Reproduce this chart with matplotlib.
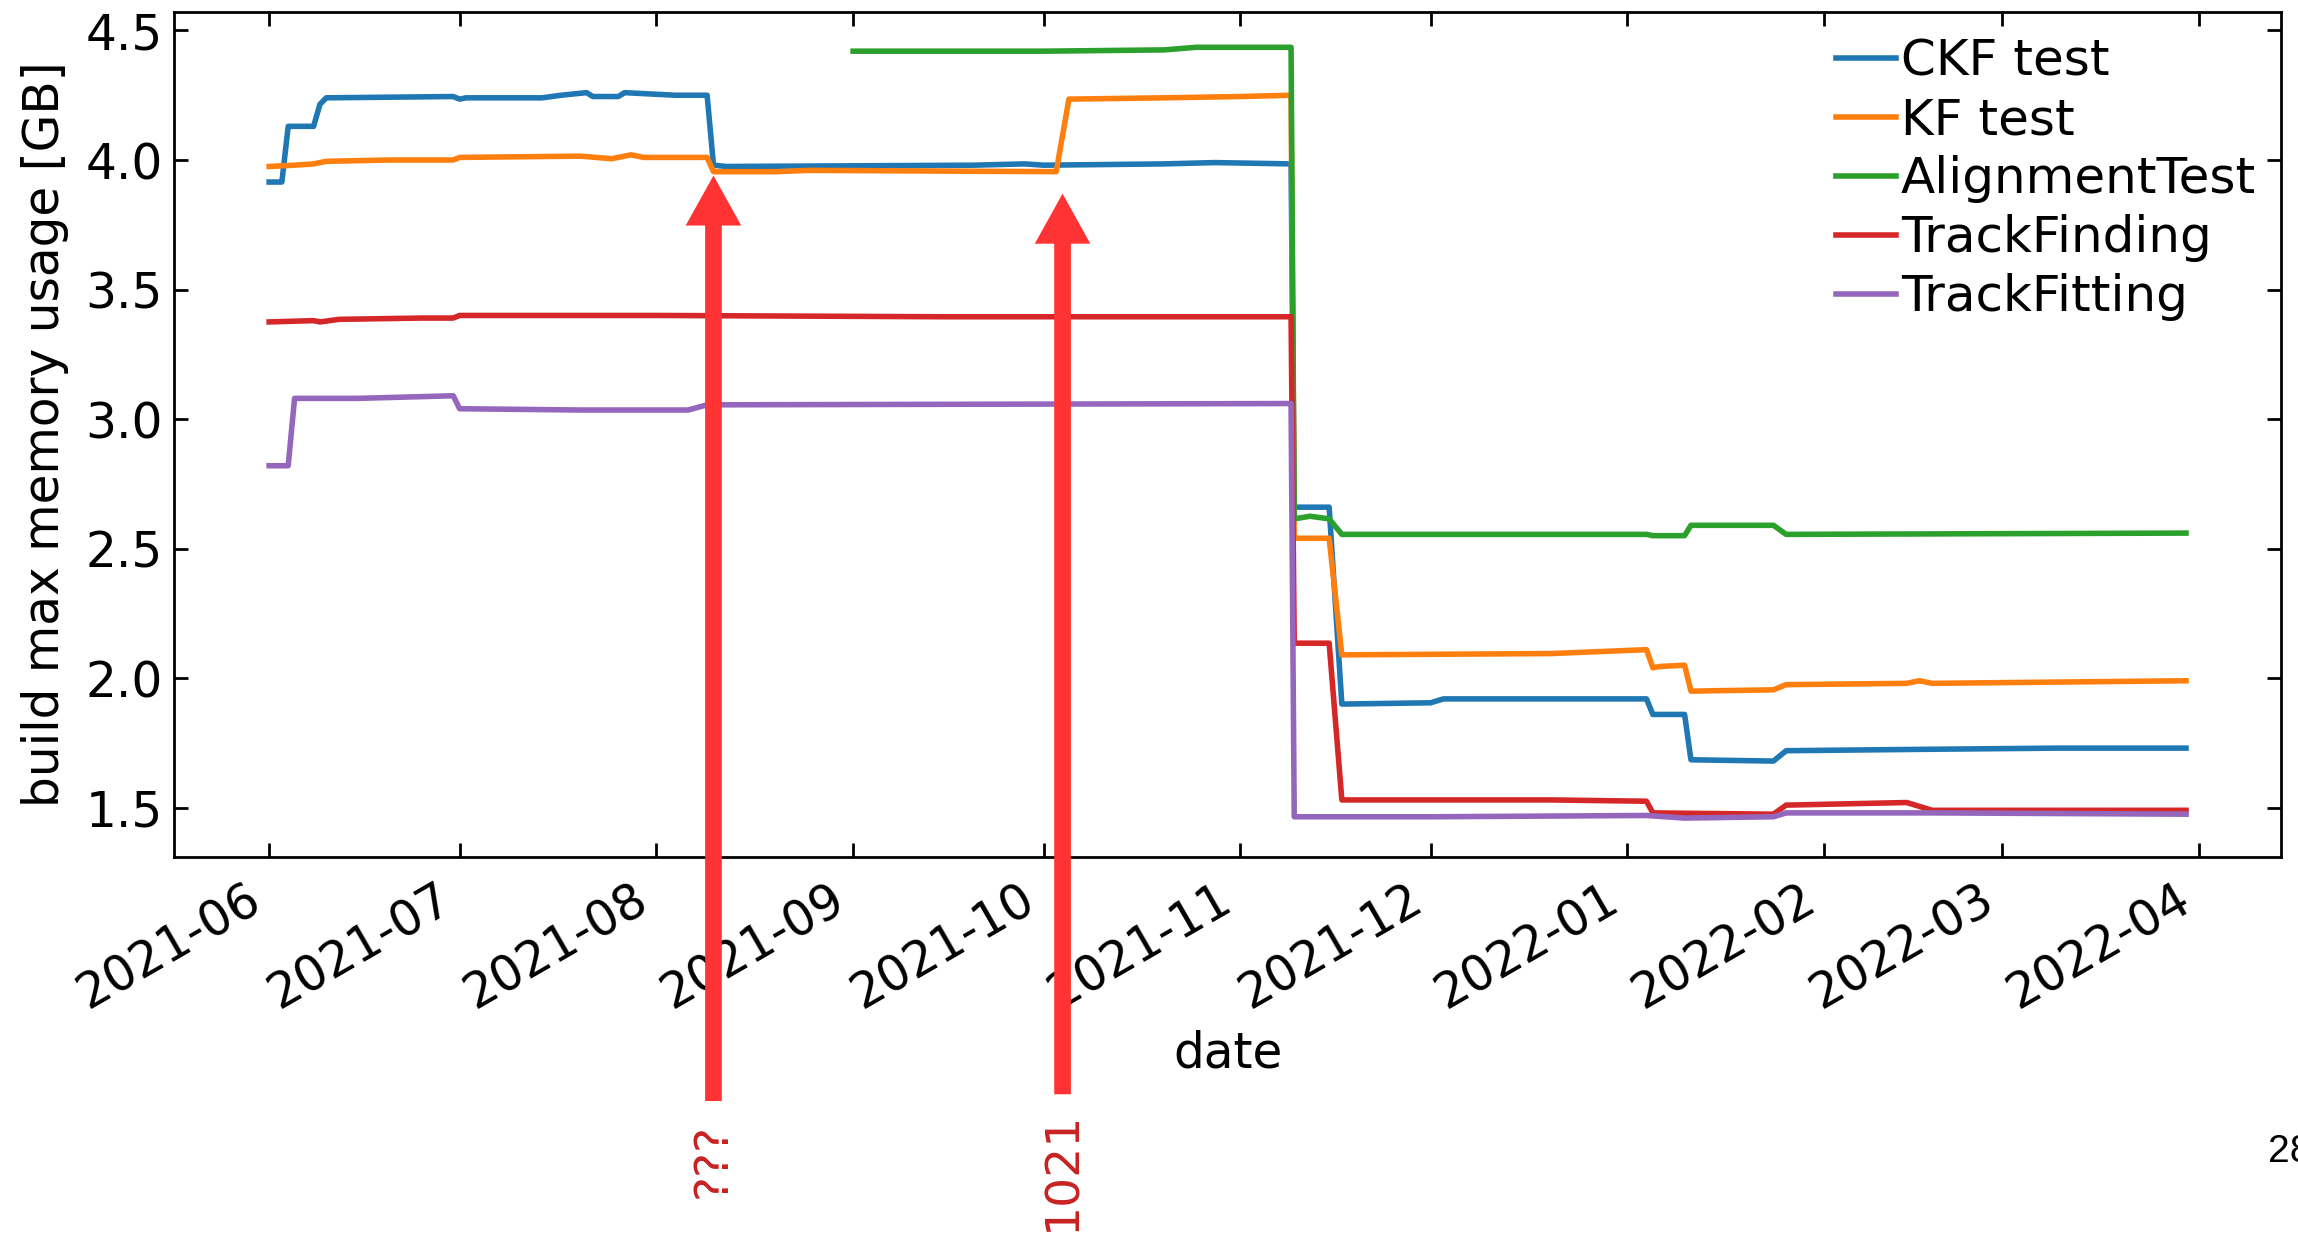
import matplotlib
matplotlib.use("Agg")
import matplotlib.pyplot as plt
import matplotlib.dates as mdates
import pandas as pd

# nightly build max memory usage [GB]
ckf_dates = ["2021-06-01", "2021-06-03", "2021-06-04", "2021-06-08", "2021-06-09", "2021-06-10",
             "2021-06-30", "2021-07-01", "2021-07-02", "2021-07-14", "2021-07-17", "2021-07-21",
             "2021-07-22", "2021-07-26", "2021-07-27", "2021-08-04", "2021-08-09", "2021-08-10",
             "2021-08-12", "2021-09-20", "2021-09-28", "2021-10-01", "2021-10-20", "2021-10-28",
             "2021-11-09", "2021-11-09 12:00", "2021-11-15", "2021-11-17", "2021-12-01", "2021-12-03",
             "2022-01-04", "2022-01-05", "2022-01-10", "2022-01-11", "2022-01-24", "2022-01-26",
             "2022-02-15", "2022-03-10", "2022-03-30"]
ckf_vals = [3.915, 3.915, 4.13, 4.13, 4.215, 4.24,
            4.245, 4.235, 4.24, 4.24, 4.25, 4.26,
            4.245, 4.245, 4.26, 4.25, 4.25, 3.98,
            3.975, 3.98, 3.985, 3.98, 3.985, 3.99,
            3.985, 2.66, 2.66, 1.90, 1.905, 1.92,
            1.92, 1.86, 1.86, 1.685, 1.68, 1.72,
            1.725, 1.73, 1.73]

kf_dates = ["2021-06-01", "2021-06-05", "2021-06-08", "2021-06-10", "2021-06-20", "2021-06-30",
            "2021-07-01", "2021-07-20", "2021-07-25", "2021-07-28", "2021-07-30", "2021-08-09",
            "2021-08-10", "2021-08-20", "2021-08-25", "2021-10-03", "2021-10-05", "2021-10-20",
            "2021-11-01", "2021-11-09", "2021-11-09 12:00", "2021-11-15", "2021-11-17", "2021-12-20",
            "2022-01-04", "2022-01-05", "2022-01-06", "2022-01-10", "2022-01-11", "2022-01-24",
            "2022-01-26", "2022-02-14", "2022-02-16", "2022-02-18", "2022-03-30"]
kf_vals = [3.975, 3.98, 3.985, 3.995, 4.0, 4.0,
           4.01, 4.015, 4.005, 4.02, 4.01, 4.01,
           3.955, 3.955, 3.96, 3.955, 4.235, 4.24,
           4.245, 4.25, 2.54, 2.54, 2.09, 2.095,
           2.11, 2.04, 2.045, 2.05, 1.95, 1.955,
           1.975, 1.98, 1.99, 1.98, 1.99]

align_dates = ["2021-09-01", "2021-10-01", "2021-10-20", "2021-10-25", "2021-11-09",
               "2021-11-09 12:00", "2021-11-12", "2021-11-15", "2021-11-17", "2022-01-04",
               "2022-01-05", "2022-01-10", "2022-01-11", "2022-01-24", "2022-01-26", "2022-03-30"]
align_vals = [4.42, 4.42, 4.425, 4.435, 4.435,
              2.615, 2.625, 2.615, 2.555, 2.555,
              2.55, 2.55, 2.59, 2.59, 2.555, 2.56]

finding_dates = ["2021-06-01", "2021-06-08", "2021-06-09", "2021-06-12", "2021-06-25", "2021-06-30",
                 "2021-07-01", "2021-08-01", "2021-09-15", "2021-11-09", "2021-11-09 12:00",
                 "2021-11-15", "2021-11-17", "2021-12-20", "2022-01-04", "2022-01-05", "2022-01-24",
                 "2022-01-26", "2022-02-14", "2022-02-18", "2022-03-30"]
finding_vals = [3.375, 3.38, 3.375, 3.385, 3.39, 3.39,
                3.40, 3.40, 3.395, 3.395, 2.135,
                2.135, 1.53, 1.53, 1.525, 1.48, 1.475,
                1.51, 1.52, 1.49, 1.49]

fitting_dates = ["2021-06-01", "2021-06-04", "2021-06-05", "2021-06-15", "2021-06-30", "2021-07-01",
                 "2021-07-20", "2021-08-06", "2021-08-09", "2021-11-09", "2021-11-09 12:00",
                 "2021-12-01", "2022-01-04", "2022-01-10", "2022-01-24", "2022-01-26", "2022-02-18",
                 "2022-03-30"]
fitting_vals = [2.82, 2.82, 3.08, 3.08, 3.09, 3.04,
                3.035, 3.035, 3.055, 3.06, 1.465,
                1.465, 1.47, 1.46, 1.465, 1.48, 1.48,
                1.475]

labels = ["CKF test", "KF test", "AlignmentTest", "TrackFinding", "TrackFitting"]
colors = ["#1f77b4", "#ff7f0e", "#2ca02c", "#d62728", "#9467bd"]

# annotation arrows (date they point at, tip value in GB, caption)
marker_dates = ["2021-08-10", "2021-10-04"]
marker_tips = [3.94, 3.87]
marker_texts = ["???", "1021"]

plt.rcParams["font.size"] = 35
plt.rcParams["font.family"] = ["DejaVu Sans"]

fig = plt.figure(figsize=(22.98, 12.33), dpi=100)
ax = fig.add_axes([0.0757, 0.305, 0.917, 0.685])

series = [(ckf_dates, ckf_vals), (kf_dates, kf_vals), (align_dates, align_vals),
          (finding_dates, finding_vals), (fitting_dates, fitting_vals)]
for (d, v), lab, col in zip(series, labels, colors):
    ax.plot(pd.to_datetime(d, format="ISO8601"), v, color=col, lw=4, label=lab)

ymin, ymax = 1.31, 4.57
ax.set_xlim(pd.Timestamp("2021-05-17"), pd.Timestamp("2022-04-14"))
ax.set_ylim(ymin, ymax)
ax.set_yticks([1.5, 2.0, 2.5, 3.0, 3.5, 4.0, 4.5])
ax.xaxis.set_major_locator(mdates.MonthLocator())
ax.xaxis.set_major_formatter(mdates.DateFormatter("%Y-%m"))
ax.tick_params(direction="in", top=True, right=True, length=10, width=2, labelsize=35, pad=8)
ax.tick_params(axis="x", pad=13)
for lbl in ax.get_xticklabels():
    lbl.set_rotation(30)
    lbl.set_ha("right")
for sp in ax.spines.values():
    sp.set_linewidth(2)

ax.set_xlabel("date", fontsize=35, labelpad=8)
ax.set_ylabel("build max memory usage [GB]", fontsize=35, labelpad=12)

ax.legend(loc="upper right", frameon=False, fontsize=36, handlelength=1.2,
          handletextpad=0.1, labelspacing=0.22, borderaxespad=0.1)

# red arrows drawn over the chart
trans = ax.get_xaxis_transform()
text_y = [-0.359, -0.372]
text_size = [34, 34]
for d, tip, txt, base, ty, ts in zip(marker_dates, marker_tips, marker_texts,
                                     [-0.289, -0.281], text_y, text_size):
    x = mdates.date2num(pd.Timestamp(d))
    tip_frac = (tip - ymin) / (ymax - ymin)
    ax.annotate("", xy=(x, tip_frac), xytext=(x, base), xycoords=trans, textcoords=trans,
                arrowprops=dict(arrowstyle="simple,head_length=3.6,head_width=4.0,tail_width=1.2",
                                mutation_scale=10, color="#ff3333", lw=0, shrinkA=0, shrinkB=0),
                annotation_clip=False)
    ax.text(x, ty, txt, transform=trans, rotation=90, ha="center", va="center",
            color="#c82222", fontsize=ts,
            family=["Liberation Sans Narrow", "DejaVu Sans"], clip_on=False)

fig.text(0.987, 0.0576, "28", fontsize=28, family=["Liberation Sans", "DejaVu Sans"],
         ha="left", va="baseline")

fig.savefig("out.png", dpi=100)
